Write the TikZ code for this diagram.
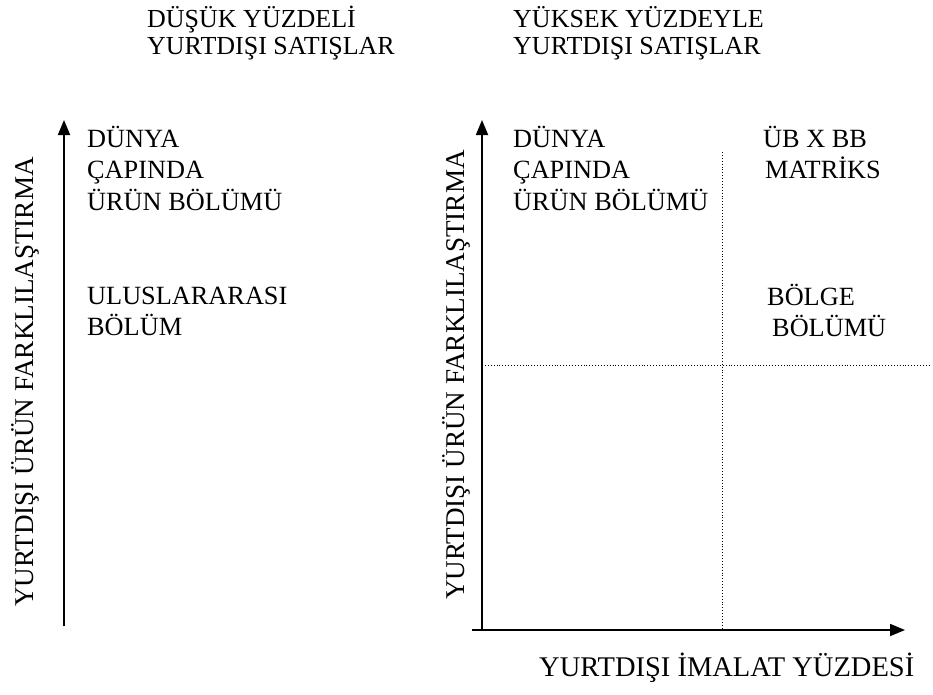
\documentclass[tikz,border=0pt]{standalone}
\usepackage{fontspec}
\setmainfont{Liberation Serif}
\newfontfamily\tnrfont{Liberation Serif}
\usetikzlibrary{arrows.meta}
\begin{document}
\begin{tikzpicture}[x=1pt,y=-1pt,
  lbl/.style={inner sep=0pt, anchor=base west, font=\tnrfont\fontsize{26.3}{31}\selectfont},
  vlbl/.style={inner sep=0pt, anchor=base west, rotate=90, font=\tnrfont\fontsize{27.1}{31}\selectfont},
  xlbl/.style={inner sep=0pt, anchor=base west, font=\tnrfont\fontsize{28.5}{31}\selectfont},
  ttl/.style={inner sep=0pt, anchor=base west, font=\tnrfont\fontsize{26}{29}\selectfont},
  axis/.style={line width=1.8pt, -{Triangle[length=15pt,width=12pt]}},
  grid/.style={line width=0.9pt, dotted}]
\useasboundingbox (0,0) rectangle (933,694);
% titles
\node[ttl] (t1a) at (147,27) {DÜŞÜK YÜZDELİ};
\node[ttl] (t1b) at (147,54) {YURTDIŞI SATIŞLAR};
\node[ttl] (t2a) at (513,27) {YÜKSEK YÜZDEYLE};
\node[ttl] (t2b) at (513,54) {YURTDIŞI SATIŞLAR};
% left chart
\coordinate (l0) at (64,626);
\coordinate (l1) at (64,120);
\draw[axis] (l0) -- (l1);
\node[vlbl] (ly) at (33,607) {YURTDIŞI ÜRÜN FARKLILAŞTIRMA};
\node[lbl] (la1) at (87,147) {DÜNYA};
\node[lbl] (la2) at (87,178) {ÇAPINDA};
\node[lbl] (la3) at (87,210) {ÜRÜN BÖLÜMÜ};
\node[lbl] (lb1) at (87,304) {ULUSLARARASI};
\node[lbl] (lb2) at (87,335) {BÖLÜM};
% right chart
\coordinate (o) at (482,630);
\coordinate (ytop) at (482,120);
\coordinate (xs) at (472,630);
\coordinate (xe) at (905,630);
\draw[axis] (o) -- (ytop);
\draw[axis] (xs) -- (xe);
\coordinate (vt) at (722,152);
\coordinate (vb) at (722,630);
\coordinate (hl) at (482,365);
\coordinate (hr) at (931,365);
\draw[grid] (vt) -- (vb);
\draw[grid] (hl) -- (hr);
\node[vlbl] (ry) at (464,600) {YURTDIŞI ÜRÜN FARKLILAŞTIRMA};
\node[lbl] (ra1) at (513,147) {DÜNYA};
\node[lbl] (ra2) at (513,178) {ÇAPINDA};
\node[lbl] (ra3) at (513,210) {ÜRÜN BÖLÜMÜ};
\node[lbl] (rb1) at (763,147) {ÜB X BB};
\node[lbl] (rb2) at (765,178) {MATRİKS};
\node[lbl] (rc1) at (767,305) {BÖLGE};
\node[lbl] (rc2) at (772,336) {BÖLÜMÜ};
\node[xlbl] (xl) at (539,676) {YURTDIŞI İMALAT YÜZDESİ};
\end{tikzpicture}
\end{document}
